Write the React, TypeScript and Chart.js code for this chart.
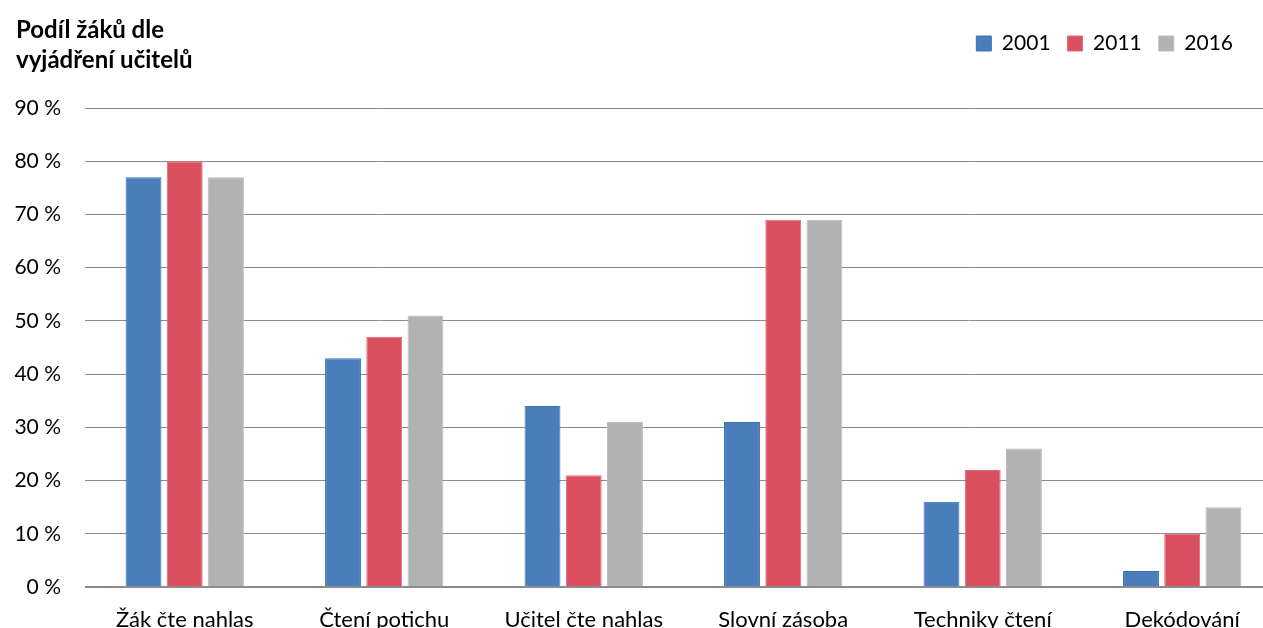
import React, { useEffect, useRef } from "react";
import { Chart, registerables } from "chart.js";

Chart.register(...registerables);

const categories = [
  "Žák čte nahlas",
  "Čtení potichu",
  "Učitel čte nahlas",
  "Slovní zásoba",
  "Techniky čtení",
  "Dekódování",
];
const seriesNames = ["2001", "2011", "2016"];
const values2001 = [77, 43, 34, 31, 16, 3];
const values2011 = [80, 47, 21, 69, 22, 10];
const values2016 = [77, 51, 31, 69, 26, 15];
const titleLines = ["Podíl žáků dle", "vyjádření učitelů"];
const yMin = 0;
const yMax = 90;
const yStep = 10;

const FONT = 'Lato, "Noto Sans", sans-serif';
const W = 1263;
const H = 628;

// Places the legend row next to the title (above the plot), inset from the right edge.
const legendPlacement = {
  id: "legendPlacement",
  afterLayout(chart: any) {
    const lg = chart.legend;
    if (lg) {
      const h = lg.height;
      lg.top = 16;
      lg.bottom = lg.top + h;
      lg.right -= 13;
      lg.width -= 13;
    }
  },
};

export default function App() {
  const ref = useRef<HTMLCanvasElement | null>(null);

  useEffect(() => {
    if (!ref.current) return;
    const toPoints = (arr: number[]) => arr.map((v, i) => ({ x: i, y: v }));
    const chart = new Chart(ref.current, {
      type: "bar",
      data: {
        datasets: [
          {
            label: seriesNames[0],
            data: toPoints(values2001),
            backgroundColor: "#4a7ebb",
            borderColor: "#3b70b3",
            borderWidth: 1,
          },
          {
            label: seriesNames[1],
            data: toPoints(values2011),
            backgroundColor: "#db5060",
            borderColor: "#e06a78",
            borderWidth: 1,
          },
          {
            label: seriesNames[2],
            data: toPoints(values2016),
            backgroundColor: "#b2b2b2",
            borderColor: "#bcbcbc",
            borderWidth: 1,
          },
        ] as any,
      },
      options: {
        responsive: false,
        animation: false,
        devicePixelRatio: 1,
        layout: { padding: { top: 60, left: 0, right: 0, bottom: 0 } },
        datasets: {
          bar: { barPercentage: 0.87, categoryPercentage: 0.62 },
        } as any,
        plugins: {
          tooltip: { enabled: false },
          title: { display: false },
          legend: {
            display: true,
            position: "top",
            align: "end",
            labels: {
              boxWidth: 15,
              boxHeight: 15,
              padding: 17,
              color: "#000",
              font: { family: FONT, size: 21 },
            },
          },
        },
        scales: {
          x: {
            type: "linear",
            offset: false,
            min: -0.5,
            max: 5.405,
            grid: { display: false, drawTicks: false },
            border: { display: false },
            ticks: {
              stepSize: 1,
              includeBounds: false,
              autoSkip: false,
              maxRotation: 0,
              padding: 20,
              color: "#000",
              font: { family: FONT, size: 22 },
              callback: (v: any) => categories[v as number] ?? "",
            },
            afterFit: (s: any) => {
              s.height = 41;
            },
          },
          y: {
            min: yMin,
            max: yMax,
            grid: {
              color: "#8c8c8c",
              lineWidth: (c: any) => (c.tick && c.tick.value === 0 ? 2 : 1),
              drawTicks: false,
            },
            border: { display: false },
            ticks: {
              stepSize: yStep,
              padding: 24,
              color: "#000",
              font: { family: FONT, size: 21 },
              callback: (v: any) => `${v} %`,
            },
            afterFit: (s: any) => {
              s.width = 85;
            },
          },
        },
      } as any,
      plugins: [legendPlacement],
    });
    return () => chart.destroy();
  }, []);

  return (
    <div
      style={{
        position: "absolute",
        left: 0,
        top: 0,
        width: W,
        height: H,
        overflow: "hidden",
        background: "#fff",
      }}
    >
      <canvas ref={ref} width={W} height={H} style={{ display: "block" }} />
      <div
        style={{
          position: "absolute",
          left: 16,
          top: 14,
          fontFamily: FONT,
          fontWeight: 700,
          fontSize: 24,
          lineHeight: "30px",
          color: "#000",
        }}
      >
        {titleLines.map((t) => (
          <div key={t}>{t}</div>
        ))}
      </div>
    </div>
  );
}
